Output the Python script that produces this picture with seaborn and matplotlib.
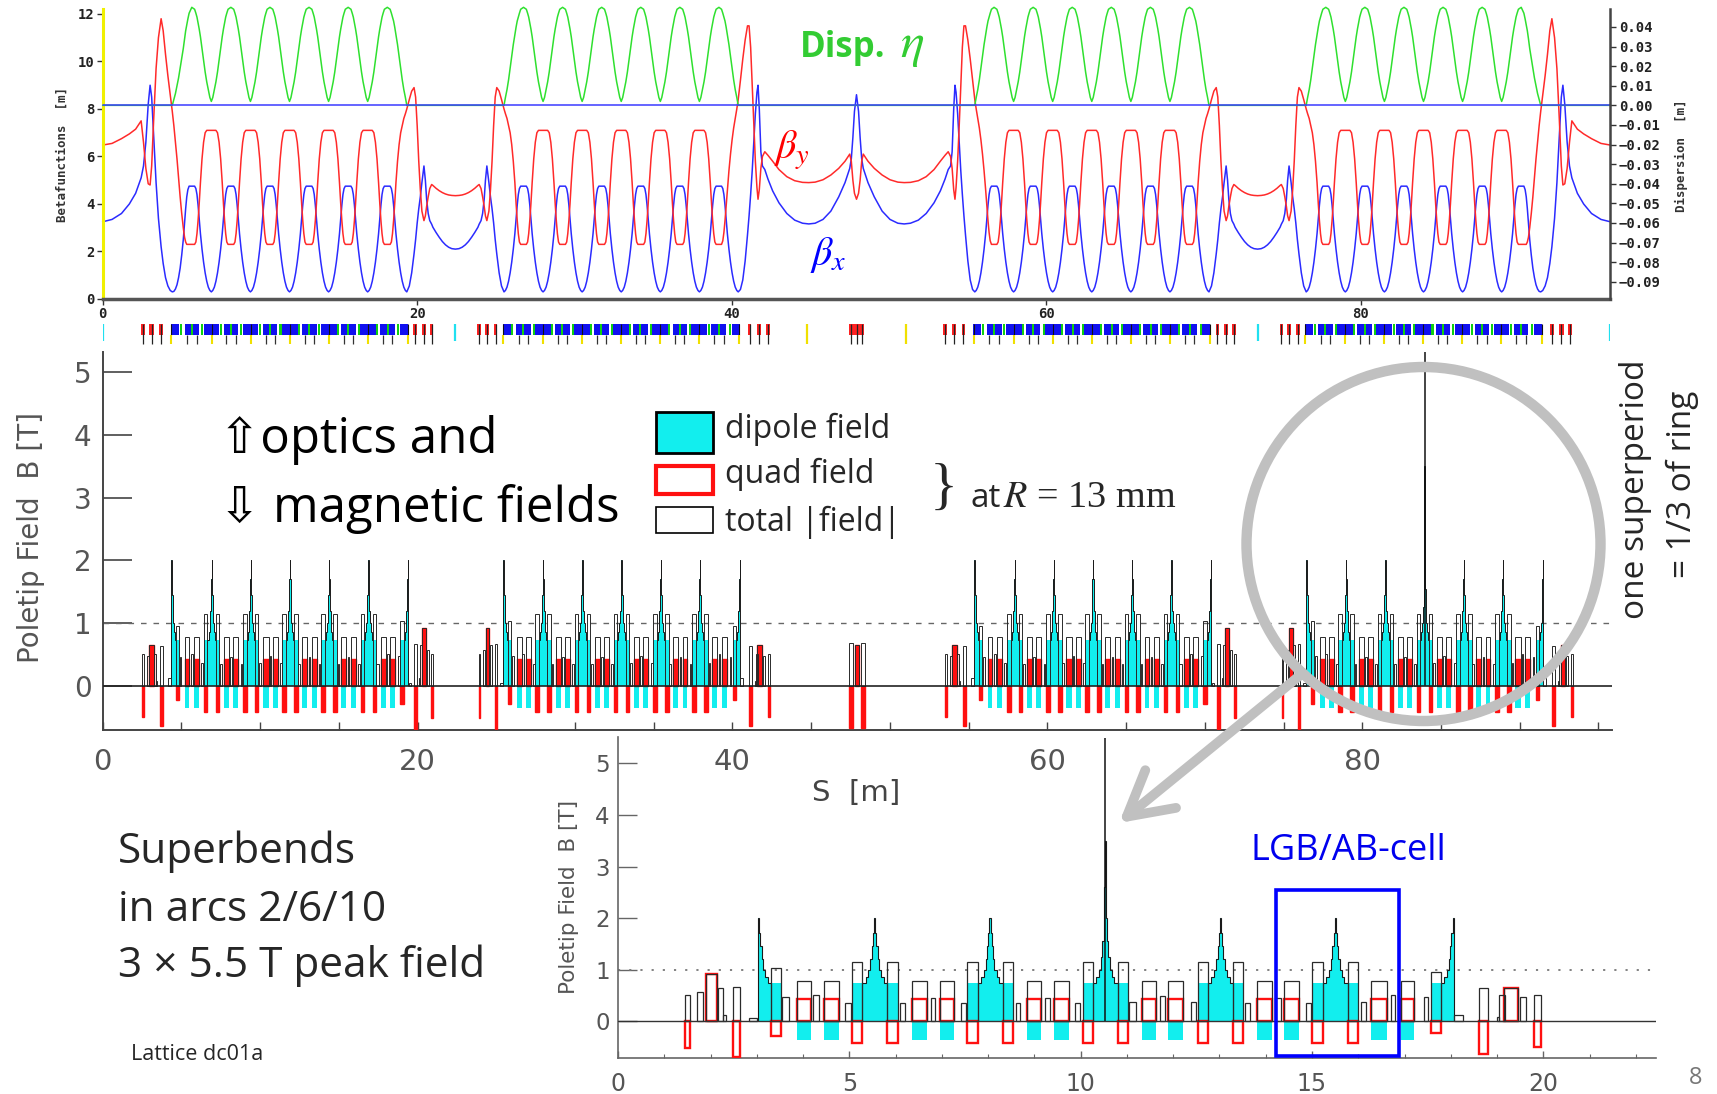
import numpy as np
import matplotlib
matplotlib.use("Agg")
import matplotlib.pyplot as plt
import seaborn as sns
from matplotlib.patches import Circle, Rectangle, FancyArrowPatch

W_PX, H_PX = 1717, 1094

# ------------------------------------------------------------------ geometry
SUPERPERIOD = 95.86
LONG_CENTER = 47.93
SHORT_CENTER = 22.43
CELL_LEN = 2.485
ARC1_CELL_START = 5.67

# ------------------------------------------------------------------ optics
# one arc half-cell, from beta_x maximum (u=0) to the cell centre / dipole centre (u=1.2425)
CELL_HALF_U = [0.0, 0.18, 0.26, 0.33, 0.40, 0.47, 0.55, 0.65, 0.75, 0.85, 0.95, 1.05, 1.15, 1.2425]
CELL_HALF_BX = [4.75, 4.75, 4.65, 4.40, 3.95, 3.40, 2.75, 2.10, 1.55, 1.10, 0.75, 0.50, 0.36, 0.30]
CELL_HALF_BY = [2.30, 2.30, 2.40, 2.75, 3.30, 4.00, 4.90, 5.90, 6.60, 7.00, 7.10, 7.10, 7.10, 7.10]
CELL_HALF_ETA = [0.050, 0.049, 0.047, 0.045, 0.042, 0.039, 0.035, 0.029, 0.023, 0.017, 0.012, 0.008, 0.004, 0.002]

# outer straight (s = 0) into arc 1
OUTER_S = [0.0, 0.6, 1.2, 1.7, 2.1, 2.45, 2.6, 2.75, 2.9, 3.02, 3.12, 3.25, 3.4, 3.55, 3.72, 3.85, 4.0,
           4.15, 4.3, 4.43, 4.53, 4.63, 4.73, 4.83, 4.93, 5.03, 5.13, 5.21, 5.28, 5.35, 5.42, 5.5, 5.67]
OUTER_BX = [3.25, 3.35, 3.6, 4.0, 4.45, 5.1, 5.6, 6.6, 8.2, 9.0, 8.5, 6.8, 4.9, 3.4, 2.2, 1.5, 0.9,
            0.55, 0.36, 0.3, 0.32, 0.42, 0.6, 0.9, 1.3, 1.85, 2.5, 3.2, 3.8, 4.3, 4.6, 4.75, 4.75]
OUTER_BY = [6.48, 6.55, 6.75, 6.95, 7.15, 7.5, 6.6, 5.5, 4.85, 4.8, 5.6, 7.6, 9.7, 11.0, 11.8, 11.3, 10.3,
            9.4, 8.6, 7.9, 7.3, 6.6, 5.9, 5.1, 4.3, 3.6, 3.0, 2.6, 2.4, 2.3, 2.3, 2.3, 2.3]
OUTER_ETA = [0.0] * 20 + [0.003, 0.006, 0.010, 0.014, 0.019, 0.024, 0.029, 0.034, 0.038, 0.041,
                          0.044, 0.047, 0.050]

# end of arc 1 into the short straight (centre 22.43)
SHORT_S = [18.1, 18.28, 18.36, 18.43, 18.5, 18.57, 18.65, 18.75, 18.85, 18.95, 19.05, 19.15, 19.25,
           19.34, 19.5, 19.65, 19.8, 19.9, 20.0, 20.1, 20.2, 20.3, 20.43, 20.52, 20.6, 20.7, 20.8,
           20.92, 21.0, 21.2, 21.4, 21.6, 21.8, 22.0, 22.2, 22.43]
SHORT_BX = [4.75, 4.75, 4.65, 4.4, 3.95, 3.4, 2.75, 2.1, 1.55, 1.1, 0.75, 0.5, 0.36,
            0.3, 0.55, 1.1, 1.9, 2.5, 3.2, 3.8, 4.3, 4.9, 5.6, 5.0, 4.2, 3.6, 3.3,
            3.15, 3.02, 2.8, 2.6, 2.42, 2.28, 2.18, 2.12, 2.1]
SHORT_BY = [2.3, 2.3, 2.4, 2.75, 3.3, 4.0, 4.9, 5.8, 6.5, 7.0, 7.3, 7.6, 7.8,
            8.0, 8.4, 8.75, 8.9, 8.5, 7.3, 5.8, 4.6, 3.7, 3.3, 3.5, 3.9, 4.3, 4.65,
            4.82, 4.78, 4.66, 4.56, 4.48, 4.42, 4.38, 4.36, 4.35]
SHORT_ETA = [0.050, 0.049, 0.047, 0.045, 0.043, 0.040, 0.036, 0.031, 0.025, 0.019, 0.013, 0.008, 0.004,
             0.0] + [0.0] * 22

# end of arc 2 into the long straight (centre 47.93)
LONG_S = [39.17, 39.35, 39.43, 39.5, 39.57, 39.64, 39.72, 39.82, 39.92, 40.02, 40.12, 40.22, 40.32, 40.41,
          40.55, 40.7, 40.85, 41.0, 41.1, 41.2, 41.3, 41.4, 41.5, 41.6, 41.67, 41.75, 41.85, 41.95,
          42.1, 42.3, 42.6, 43.0, 43.5, 44.0, 44.5, 44.9, 45.3, 45.8, 46.3, 46.8, 47.2, 47.5, 47.6,
          47.7, 47.8, 47.93]
LONG_BX = [4.75, 4.75, 4.65, 4.4, 3.95, 3.4, 2.75, 2.1, 1.55, 1.1, 0.75, 0.5, 0.36, 0.3,
           0.4, 0.8, 1.6, 2.7, 3.5, 4.4, 5.4, 6.6, 7.8, 8.7, 9.0, 8.0, 6.2, 5.6,
           5.45, 5.05, 4.55, 4.05, 3.6, 3.32, 3.19, 3.16, 3.19, 3.35, 3.7, 4.3, 4.9, 5.5, 5.9,
           6.8, 7.9, 8.6]
LONG_BY = [2.3, 2.3, 2.45, 2.8, 3.3, 3.9, 4.6, 5.4, 6.1, 6.7, 7.2, 7.6, 8.0, 8.4,
           9.2, 10.1, 10.9, 11.5, 11.5, 10.6, 9.0, 7.3, 5.8, 4.7, 4.2, 4.6, 5.5, 6.0,
           6.2, 6.05, 5.8, 5.45, 5.15, 4.98, 4.91, 4.9, 4.92, 5.02, 5.22, 5.5, 5.8, 6.1, 5.8,
           5.0, 4.45, 4.2]
LONG_ETA = [0.050, 0.049, 0.047, 0.045, 0.043, 0.040, 0.036, 0.031, 0.025, 0.019, 0.013, 0.008, 0.004,
            0.0] + [0.0] * 32

ETA_TICKS = [0.04, 0.03, 0.02, 0.01, 0.00, -0.01, -0.02, -0.03, -0.04, -0.05, -0.06, -0.07, -0.08, -0.09]

# ------------------------------------------------------------------ magnet fields
# local coordinates of the lower panel (= arc 4 seen from the short-straight centre)
LGB_CENTER = [3.04, 5.55, 8.04, 10.53, 13.02, 15.50, 18.05]
LGB_KIND = ["half_right", "full", "full", "super", "full", "full", "half_left"]

PYR_EDGES = [-0.27, -0.20, -0.14, -0.095, -0.06, -0.035, -0.012, 0.012, 0.035, 0.06, 0.095, 0.14, 0.20, 0.27]
PYR_B = [0.73, 0.85, 1.0, 1.2, 1.45, 1.7, 2.0, 1.7, 1.45, 1.2, 1.0, 0.85, 0.73]
SB_EDGES = [-0.27, -0.20, -0.14, -0.095, -0.06, -0.035, -0.02, -0.008, 0.008, 0.02, 0.035, 0.06, 0.095,
            0.14, 0.20, 0.27]
SB_B = [0.73, 0.85, 1.0, 1.25, 1.55, 2.0, 2.6, 3.5, 2.6, 2.0, 1.55, 1.25, 1.0, 0.85, 0.73]
SB_TOTAL_PEAK = 5.5

DIPBOX_START = [3.31, 5.06, 5.82, 7.55, 8.31, 10.04, 10.81, 12.53, 13.29, 15.01, 15.77, 17.58]
DIPBOX_END = [3.52, 5.28, 6.04, 7.77, 8.53, 10.26, 11.03, 12.75, 13.51, 15.23, 15.99, 17.79]
DIPBOX_B = [0.73, 0.73, 0.73, 0.73, 0.73, 0.73, 0.73, 0.73, 0.73, 0.73, 0.73, 0.73]
DIPBOX_QUAD = [-0.30, -0.42, -0.42, -0.42, -0.42, -0.42, -0.42, -0.42, -0.42, -0.42, -0.42, -0.23]
DIPBOX_TOTAL = [1.03, 1.15, 1.15, 1.15, 1.15, 1.15, 1.15, 1.15, 1.15, 1.15, 1.15, 0.95]

QAB_START = [3.86, 4.46, 6.35, 6.95, 8.83, 9.43, 11.32, 11.89, 13.82, 14.40, 16.28, 16.93]
QAB_END = [4.18, 4.78, 6.67, 7.26, 9.14, 9.75, 11.63, 12.22, 14.13, 14.71, 16.62, 17.20]
QAB_QUAD = [0.42, 0.42, 0.42, 0.42, 0.42, 0.42, 0.42, 0.42, 0.42, 0.42, 0.42, 0.42]
QAB_DIP = [-0.36, -0.36, -0.36, -0.36, -0.36, -0.36, -0.36, -0.36, -0.36, -0.36, -0.36, -0.36]
QAB_TOTAL = [0.77, 0.77, 0.77, 0.77, 0.77, 0.77, 0.77, 0.77, 0.77, 0.77, 0.77, 0.77]

SEXT_START = [3.55, 4.22, 4.90, 6.10, 6.76, 7.41, 8.60, 9.23, 9.87, 11.05, 11.71, 12.38, 13.55, 14.21,
              14.86, 16.05, 16.70, 17.42]
SEXT_END = [3.69, 4.34, 5.04, 6.20, 6.85, 7.51, 8.69, 9.34, 9.99, 11.19, 11.82, 12.50, 13.66, 14.32,
            14.97, 16.16, 16.80, 17.50]
SEXT_TOTAL = [0.47, 0.50, 0.35, 0.35, 0.45, 0.35, 0.35, 0.45, 0.35, 0.36, 0.48, 0.36, 0.35, 0.45,
              0.35, 0.36, 0.50, 0.46]

MATCH_Q_START = [1.45, 1.90, 2.48, 18.60, 19.16, 19.80]
MATCH_Q_END = [1.56, 2.14, 2.63, 18.81, 19.46, 19.94]
MATCH_Q_B = [-0.52, 0.92, -0.69, -0.64, 0.65, -0.50]
MATCH_Q_TOTAL = [0.50, 0.92, 0.67, 0.64, 0.65, 0.50]
MATCH_S_START = [1.71, 2.17, 2.27, 2.82, 18.06, 19.00, 19.05, 19.50]
MATCH_S_END = [1.83, 2.27, 2.33, 3.00, 18.26, 19.05, 19.17, 19.63]
MATCH_S_TOTAL = [0.57, 0.65, 0.12, 0.05, 0.12, 0.08, 0.50, 0.47]

LS_Q_START = [47.43, 47.80, 48.18]
LS_Q_END = [47.68, 48.06, 48.43]
LS_Q_B = [-0.68, 0.65, -0.68]

ARC_ORIGIN = [22.43, 22.43, 73.43, 73.43]
ARC_DIR = [-1, 1, -1, 1]
ARC_SUPERBEND = [False, False, False, True]
LOWER_OFFSET = 73.43

STRIP_CYAN = [0.0, 22.43, 73.43, 95.86]
STRIP_YELLOW = [44.8, 51.06]

# ------------------------------------------------------------------ style
CYAN = "#12eeee"
RED = "#ff1010"
sns.set_theme(style="ticks")
plt.rcParams["font.family"] = ["Open Sans", "DejaVu Sans"]
plt.rcParams["mathtext.fontset"] = "stix"

fig = plt.figure(figsize=(W_PX / 100, H_PX / 100), dpi=100)
fig.patch.set_facecolor("white")


def fbox(x0, y0, x1, y1):
    return [x0 / W_PX, 1 - y1 / H_PX, (x1 - x0) / W_PX, (y1 - y0) / H_PX]


# ------------------------------------------------------------------ build optics curves
def seg(s, bx, by, eta):
    return [np.asarray(v, float) for v in (s, bx, by, eta)]


def cell(s0):
    u = np.asarray(CELL_HALF_U)
    s = np.concatenate([s0 + u, s0 + CELL_LEN - u[::-1][1:]])
    out = [s]
    for arr in (CELL_HALF_BX, CELL_HALF_BY, CELL_HALF_ETA):
        out.append(np.concatenate([arr, arr[::-1][1:]]))
    return out


def mirror(piece, c):
    return [2 * c - piece[0][::-1]] + [p[::-1] for p in piece[1:]]


def join(pieces):
    res = [[], [], [], []]
    last = -1e9
    for p in pieces:
        for i in range(len(p[0])):
            if p[0][i] > last + 1e-6:
                for j in range(4):
                    res[j].append(p[j][i])
                last = p[0][i]
    return [np.asarray(r) for r in res]


short_piece = seg(SHORT_S, SHORT_BX, SHORT_BY, SHORT_ETA)
pieces = [seg(OUTER_S, OUTER_BX, OUTER_BY, OUTER_ETA)]
pieces += [cell(ARC1_CELL_START + k * CELL_LEN) for k in range(5)]
pieces += [short_piece, mirror(short_piece, SHORT_CENTER)]
arc2_start = 2 * SHORT_CENTER - SHORT_S[0]
pieces += [cell(arc2_start + k * CELL_LEN) for k in range(5)]
pieces += [seg(LONG_S, LONG_BX, LONG_BY, LONG_ETA)]
half = join(pieces)
S, BX, BY, ETA = join([half, mirror(half, LONG_CENTER)])

# ------------------------------------------------------------------ top: optics
ax_top = fig.add_axes(fbox(102.6, 8.5, 1610.4, 299))
ax_eta = ax_top.twinx()
sns.lineplot(x=S, y=BX, ax=ax_top, color="#2b2bff", linewidth=1.1, estimator=None, sort=False)
sns.lineplot(x=S, y=BY, ax=ax_top, color="#ff2a2a", linewidth=1.1, estimator=None, sort=False)
sns.lineplot(x=S, y=ETA, ax=ax_eta, color="#2fe02f", linewidth=1.1, estimator=None, sort=False)
ax_eta.axhline(0.0, color="#3b3bff", linewidth=1.1)
for ln in ax_top.lines + ax_eta.lines:
    ln.set_clip_on(False)
ax_top.set_xlim(0, SUPERPERIOD)
ax_top.set_ylim(0, 12.23)
ax_eta.set_ylim(-0.0988, 0.0494)
ax_top.set_xticks([0, 20, 40, 60, 80])
ax_top.set_yticks([0, 2, 4, 6, 8, 10, 12])
ax_eta.set_yticks(ETA_TICKS)
ax_eta.set_yticklabels([f"{v:.2f}".replace("-", "\u2212") for v in ETA_TICKS])
for a in (ax_top, ax_eta):
    a.tick_params(direction="out", length=4, width=1, color="#333333", labelsize=10, pad=2,
                  labelcolor="#222222")
    for lab in a.get_xticklabels() + a.get_yticklabels():
        lab.set_fontfamily("DejaVu Sans Mono")
        lab.set_fontweight("bold")
ax_top.spines["top"].set_visible(False)
ax_top.spines["right"].set_visible(False)
ax_top.spines["left"].set_color("#f0f000")
ax_top.spines["left"].set_linewidth(2.2)
ax_top.spines["bottom"].set_color("#555555")
ax_top.spines["bottom"].set_linewidth(2.5)
for sp in ("top", "left", "bottom"):
    ax_eta.spines[sp].set_visible(False)
ax_eta.spines["right"].set_color("#444444")
ax_eta.spines["right"].set_linewidth(1.8)
ax_top.set_ylabel("Betafunctions  [m]", fontsize=9, fontweight="bold", family="DejaVu Sans Mono",
                  color="#333333", va="center", ha="center")
ax_top.yaxis.set_label_coords(-0.0269, 0.496)
ax_eta.set_ylabel("Dispersion  [m]", fontsize=9, fontweight="bold", family="DejaVu Sans Mono",
                  color="#333333", va="center", ha="center")
ax_eta.yaxis.set_label_coords(1.0472, 0.492)
ax_top.set_xlabel("")


# ------------------------------------------------------------------ magnet helpers
def place(origin, direction, start, end):
    a = origin + direction * np.asarray(start, float)
    b = origin + direction * np.asarray(end, float)
    return (a + b) / 2, np.abs(b - a)


def pyramid(kind, sb):
    if kind == "super" and sb:
        return SB_EDGES, SB_B
    if kind == "half_right":
        return PYR_EDGES[6:], PYR_B[6:]
    if kind == "half_left":
        return PYR_EDGES[:8], PYR_B[:7]
    return PYR_EDGES, PYR_B


def draw_fields(ax, shift, mode):
    low = mode == "low"
    if low:
        red_kw = dict(fill=False, edgecolor=RED, linewidth=1.7)
    else:
        red_kw = dict(facecolor=RED, edgecolor=RED, linewidth=1.0)
    tot_kw = dict(fill=False, edgecolor="#2a2a2a", linewidth=0.9 if low else 0.7)
    for origin, d, sb in zip(ARC_ORIGIN, ARC_DIR, ARC_SUPERBEND):
        o = origin - shift
        c1, w1 = place(o, d, DIPBOX_START, DIPBOX_END)
        c2, w2 = place(o, d, QAB_START, QAB_END)
        c3, w3 = place(o, d, MATCH_Q_START, MATCH_Q_END)
        c4, w4 = place(o, d, SEXT_START, SEXT_END)
        c5, w5 = place(o, d, MATCH_S_START, MATCH_S_END)
        ax.bar(c1, DIPBOX_B, w1, color=CYAN, linewidth=0, zorder=2)
        ax.bar(c2, QAB_DIP, w2, color=CYAN, linewidth=0, zorder=2)
        for lc, kind in zip(LGB_CENTER, LGB_KIND):
            edges, vals = pyramid(kind, sb)
            e = o + d * (lc + np.asarray(edges, float))
            v = np.asarray(vals, float)
            if d < 0:
                e, v = e[::-1], v[::-1]
            ax.stairs(v, e, fill=True, color=CYAN, linewidth=0, zorder=2)
            ax.stairs(v, e, fill=False, color="#1a1a1a", linewidth=0.8 if low else 0.7, zorder=4)
            if kind == "super" and sb:
                ax.vlines(o + d * lc, 0, SB_TOTAL_PEAK, color="#111111", linewidth=1.1, zorder=4)
        ax.bar(c1, DIPBOX_QUAD, w1, zorder=3, **red_kw)
        ax.bar(c2, QAB_QUAD, w2, zorder=3, **red_kw)
        ax.bar(c3, MATCH_Q_B, w3, zorder=3, **red_kw)
        ax.bar(c1, DIPBOX_TOTAL, w1, zorder=4, **tot_kw)
        ax.bar(c2, QAB_TOTAL, w2, zorder=4, **tot_kw)
        ax.bar(c3, MATCH_Q_TOTAL, w3, zorder=4, **tot_kw)
        ax.bar(c4, SEXT_TOTAL, w4, zorder=4, **tot_kw)
        ax.bar(c5, MATCH_S_TOTAL, w5, zorder=4, **tot_kw)
    c6, w6 = place(-shift, 1, LS_Q_START, LS_Q_END)
    ax.bar(c6, LS_Q_B, w6, zorder=3, **red_kw)
    ax.bar(c6, np.abs(LS_Q_B), w6, zorder=4, **tot_kw)


# ------------------------------------------------------------------ lattice strip
ax_strip = fig.add_axes(fbox(102.6, 324, 1610.4, 346))
ax_strip.set_xlim(0, SUPERPERIOD)
ax_strip.set_ylim(0, 1)
ax_strip.axis("off")
STRIP_EXTENT = {"full": (-0.5, 0.5), "super": (-0.5, 0.5), "half_right": (-0.03, 0.48),
                "half_left": (-0.47, 0.03)}
for origin, d in zip(ARC_ORIGIN, ARC_DIR):
    for lc, kind in zip(LGB_CENTER, LGB_KIND):
        a, b = STRIP_EXTENT[kind]
        c, w = place(origin, d, [lc + a], [lc + b])
        ax_strip.bar(c, 0.5, w, bottom=0.5, color="#1010f0", linewidth=0)
        ax_strip.vlines(origin + d * lc, 0.5, 1.0, color="#111111", linewidth=0.8)
        ax_strip.vlines(origin + d * lc, 0.1, 0.48, color="#f0e000", linewidth=1.5)
    c, w = place(origin, d, QAB_START[0::2], QAB_END[1::2])
    ax_strip.bar(c, 0.5, w, bottom=0.5, color="#1010f0", linewidth=0)
    cq, _ = place(origin, d, QAB_START, QAB_END)
    ax_strip.vlines(cq, 0.1, 0.5, color="#333333", linewidth=0.9)
    cs, _ = place(origin, d, SEXT_START, SEXT_END)
    ax_strip.bar(cs, 0.5, 0.13, bottom=0.5, color="#10d010", linewidth=0)
    cm, wm = place(origin, d, MATCH_Q_START, MATCH_Q_END)
    ax_strip.bar(cm, 0.5, np.maximum(wm, 0.22), bottom=0.5, color="#ff2020", linewidth=0)
    ax_strip.vlines(cm, 0.1, 1.0, color="#222222", linewidth=0.9)
cl, wl = place(0, 1, [LS_Q_START[0]], [LS_Q_END[-1]])
ax_strip.bar(cl, 0.5, wl, bottom=0.5, color="#ff2020", linewidth=0)
ax_strip.vlines([47.55, 47.93, 48.3], 0.1, 1.0, color="#222222", linewidth=0.9)
ax_strip.vlines(STRIP_CYAN, 0.25, 1.0, color="#20e0f0", linewidth=1.6)
ax_strip.vlines(STRIP_YELLOW, 0.1, 1.0, color="#f0e000", linewidth=1.6)

# ------------------------------------------------------------------ middle: fields of whole superperiod
ax_mid = fig.add_axes(fbox(102.6, 351.7, 1612, 730))
draw_fields(ax_mid, 0.0, "mid")
ax_mid.axhline(0, color="#222222", linewidth=1.2, zorder=5)
ax_mid.axhline(1, color="#666666", linewidth=1.0, linestyle=(0, (4, 5)), zorder=1)
ax_mid.set_xlim(0, SUPERPERIOD)
ax_mid.set_ylim(-0.707, 5.33)
ax_mid.set_xticks(np.arange(0, 96, 5))
ax_mid.set_xticklabels([str(v) if v % 20 == 0 else "" for v in range(0, 96, 5)])
ax_mid.set_yticks([0, 1, 2, 3, 4, 5])
ax_mid.tick_params(axis="x", direction="in", length=6, width=1, color="#444444", labelsize=21,
                   labelcolor="#555555", pad=13, labelfontfamily="DejaVu Sans")
ax_mid.tick_params(axis="y", direction="in", length=21, width=1.2, color="#444444", labelsize=20,
                   labelcolor="#555555", pad=8, labelfontfamily="DejaVu Sans")
for sp in ("top", "right"):
    ax_mid.spines[sp].set_visible(False)
for sp in ("left", "bottom"):
    ax_mid.spines[sp].set_color("#444444")
    ax_mid.spines[sp].set_linewidth(1.4)
ax_mid.set_ylabel("Poletip Field  B [T]", fontsize=20, color="#555555", family="DejaVu Sans",
                  va="center", ha="center")
ax_mid.yaxis.set_label_coords(-0.0474, 0.510)
ax_mid.set_xlabel("S  [m]", fontsize=21, color="#444444", family="DejaVu Sans", va="center", ha="center")
ax_mid.xaxis.set_label_coords(0.499, -0.166)

# ------------------------------------------------------------------ bottom: zoom into last arc
ax_low = fig.add_axes(fbox(618.1, 736.7, 1655.7, 1057.7))
ax_low.set_facecolor("none")
draw_fields(ax_low, LOWER_OFFSET, "low")
ax_low.axhline(0, color="#333333", linewidth=1.0, zorder=5)
ax_low.axhline(1, color="#777777", linewidth=1.3, linestyle=(0, (1.2, 5)), zorder=1)
ax_low.set_xlim(0, 22.43)
ax_low.set_ylim(-0.712, 5.52)
ax_low.set_xticks([0, 5, 10, 15, 20])
ax_low.set_xticks(np.arange(0, 23, 1), minor=True)
ax_low.set_yticks([0, 1, 2, 3, 4, 5])
ax_low.tick_params(axis="x", which="major", direction="in", length=5, width=1, color="#666666",
                   labelsize=17, labelcolor="#555555", pad=10, labelfontfamily="DejaVu Sans")
ax_low.tick_params(axis="x", which="minor", direction="in", length=3, width=0.8, color="#666666")
ax_low.tick_params(axis="y", direction="in", length=14, width=1, color="#666666", labelsize=16.5,
                   labelcolor="#555555", pad=6, labelfontfamily="DejaVu Sans")
for sp in ("top", "right"):
    ax_low.spines[sp].set_visible(False)
for sp in ("left", "bottom"):
    ax_low.spines[sp].set_color("#666666")
    ax_low.spines[sp].set_linewidth(1.2)
ax_low.set_ylabel("Poletip Field  B [T]", fontsize=15.5, color="#555555", family="DejaVu Sans",
                  va="center", ha="center")
ax_low.yaxis.set_label_coords(-0.0473, 0.5006)
ax_low.add_patch(Rectangle((14.22, -0.68), 16.89 - 14.22, 2.54 + 0.68, fill=False,
                           edgecolor="#0000ff", linewidth=2.6, clip_on=False, zorder=6))

# ------------------------------------------------------------------ overlay annotations (pixel coords)
ax_ov = fig.add_axes([0, 0, 1, 1])
ax_ov.set_xlim(0, W_PX)
ax_ov.set_ylim(H_PX, 0)
ax_ov.axis("off")
ax_ov.patch.set_visible(False)
ax_ov.set_zorder(10)

FAM = ["Open Sans", "DejaVu Sans"]
ax_ov.text(800, 57, "Disp.", fontsize=25, fontweight="bold", color="#33cc33", family=FAM, va="baseline")
ax_ov.text(900, 57, r"$\eta$", fontsize=36, color="#33cc33", va="baseline")
ax_ov.text(774, 150, r"$\beta_y$", fontsize=29, color="#ff0000", va="center")
ax_ov.text(810, 255, r"$\beta_x$", fontsize=29, color="#0000ff", va="center")

ax_ov.text(219, 440, "\u21e7optics and", fontsize=35.5, color="black", family=FAM, va="center")
ax_ov.text(219, 509, "\u21e9 magnetic fields", fontsize=35.5, color="black", family=FAM, va="center")

ax_ov.add_patch(Rectangle((655.8, 411.7), 56.7, 41.6, facecolor=CYAN, edgecolor="black", linewidth=2))
ax_ov.add_patch(Rectangle((655.8, 465.5), 57.5, 28, facecolor="none", edgecolor=RED, linewidth=3))
ax_ov.add_patch(Rectangle((655.8, 506.7), 56.7, 26.6, facecolor="none", edgecolor="black", linewidth=1.2))
ax_ov.text(725, 429, "dipole field", fontsize=23, family=FAM, va="center")
ax_ov.text(725, 474, "quad field", fontsize=23, family=FAM, va="center")
ax_ov.text(725, 522, "total |field|", fontsize=23, family=FAM, va="center")
ax_ov.text(944, 490, "}", fontsize=42, family="Liberation Serif", ha="center", va="center")
ax_ov.text(970, 507, "at", fontsize=24, family=FAM, va="baseline")
ax_ov.text(1003, 507, r"$R$ = 13 mm", fontsize=27.5, family="Liberation Serif", va="baseline")

ax_ov.text(1635, 489, "one superperiod", fontsize=24, family=FAM, rotation=90, ha="center", va="center")
ax_ov.text(1682, 484, "= 1/3 of ring", fontsize=24, family=FAM, rotation=90, ha="center", va="center")

ax_ov.text(118, 852, "Superbends", fontsize=30.5, family=FAM, va="center")
ax_ov.text(118, 910, "in arcs 2/6/10", fontsize=30.5, family=FAM, va="center")
ax_ov.text(118, 966, "3 \u00d7 5.5 T peak field", fontsize=30.5, family=FAM, va="center")
ax_ov.text(131, 1054, "Lattice dc01a", fontsize=15.5, family=FAM, va="center")
ax_ov.text(1348, 851, "LGB/AB-cell", fontsize=26, color="#0000ee", family=FAM, ha="center", va="center")
ax_ov.text(1696, 1078, "8", fontsize=17, color="#777777", family=FAM, ha="center", va="center")

ax_ov.add_patch(Circle((1423.5, 544), 177, fill=False, edgecolor="#c0c0c0", linewidth=7.5))
ax_ov.add_patch(FancyArrowPatch((1303, 673), (1119, 823),
                                arrowstyle="->,head_length=0.63,head_width=0.35", mutation_scale=50,
                                color="#c0c0c0", linewidth=7, capstyle="round", joinstyle="round",
                                shrinkA=0, shrinkB=0))

fig.savefig("out.png", dpi=100, facecolor="white")
